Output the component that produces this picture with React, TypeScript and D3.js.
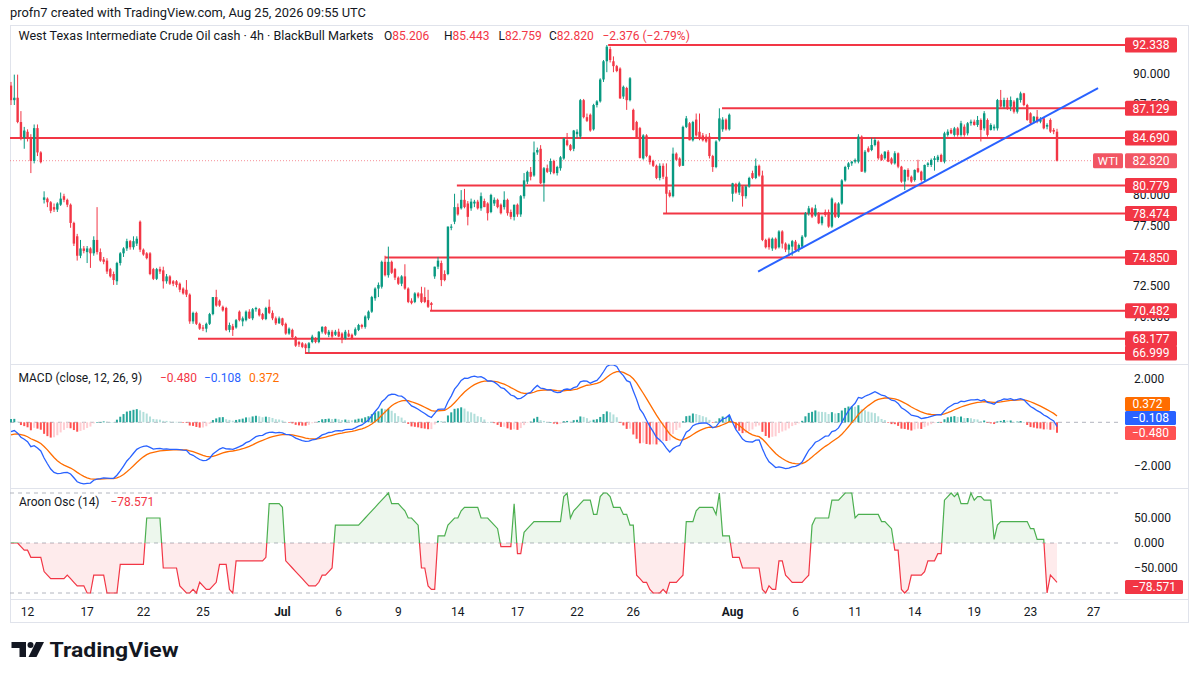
import React from 'react';
import * as d3 from 'd3';

const opens = [
89.0,87.8,88.0,86.0,84.7,85.2,84.7,82.8,85.5,83.5,
79.6,79.7,79.4,79.0,78.8,79.2,79.9,79.6,79.2,77.7,
76.6,75.0,75.6,75.3,75.6,75.2,76.3,75.3,74.7,74.6,
73.9,73.5,72.9,74.4,75.2,75.6,76.2,75.7,76.0,77.8,
75.5,75.2,75.2,73.9,73.1,73.9,73.8,72.9,73.3,72.9,
72.9,72.7,72.3,72.2,71.8,69.6,70.3,69.4,69.1,69.0,
69.4,70.2,71.6,71.3,70.8,70.7,68.9,69.2,69.1,70.4,
69.6,69.7,70.4,69.85,70.6,70.6,70.2,69.8,70.8,70.3,
69.85,69.44,69.85,69.4,68.6,68.9,68.3,67.9,67.8,67.7,
67.4,67.9,68.2,67.9,68.75,69.15,68.5,68.75,68.5,68.75,
68.6,68.2,68.6,68.5,68.5,68.9,69.3,69.15,69.85,70.4,
71.5,72.3,72.45,74.5,73.4,74.5,73.9,73.2,72.7,73.3,
72.3,71.3,71.2,71.9,71.9,71.6,71.35,71.1,73.3,74.1,
74.4,73.5,73.5,77.3,77.8,79.0,78.9,79.6,79.3,78.9,
79.3,79.45,78.9,79.5,79.3,78.6,79.3,79.6,79.2,79.0,
79.6,78.6,78.2,79.2,78.4,79.9,81.1,81.9,81.6,83.5,
83.8,81.0,82.2,81.9,82.8,81.8,82.2,83.0,84.5,84.1,
83.8,85.0,84.8,87.8,86.4,86.6,85.4,87.4,87.7,89.5,
91.0,92.0,91.0,90.6,90.4,88.1,88.8,87.8,87.0,86.0,
85.5,83.0,84.9,83.2,82.8,82.4,81.4,82.4,81.5,80.2,
79.9,83.4,83.0,82.4,85.6,85.9,84.5,86.2,85.2,84.9,
84.8,84.8,83.2,82.3,84.5,85.4,86.2,85.4,80.1,80.9,
80.2,80.7,79.9,80.7,81.8,81.4,82.4,81.6,76.3,76.4,
75.6,76.4,75.7,77.0,76.0,75.5,75.75,76.16,75.5,75.75,
76.57,78.49,78.9,78.3,78.5,77.67,78.6,78.6,77.4,79.3,
78.2,79.3,81.2,82.3,82.6,82.74,82.74,84.8,81.92,83.84,
83.7,84.11,84.39,83.3,83.02,83.56,83.0,82.6,83.43,82.33,
81.1,82.06,81.5,81.23,82.2,81.92,81.23,82.47,82.47,82.88,
82.88,83.29,82.74,84.94,85.35,84.94,85.48,84.94,85.62,85.07,
85.9,86.03,85.76,86.17,85.48,86.17,85.35,85.48,85.48,87.81,
87.27,87.81,87.27,87.68,86.85,87.81,88.36,87.4,86.72,86.03,
86.44,86.03,86.31,85.62,86.17,85.35,85.206
];

const highs = [
89.3,89.9,89.9,86.9,85.6,85.4,85.0,85.8,85.8,83.6,
80.3,79.8,79.5,79.3,79.4,80.2,80.1,79.7,79.3,77.8,
76.8,76.3,75.8,75.8,75.7,76.6,79.0,75.6,74.9,74.8,
74.0,73.7,74.5,75.3,75.7,76.4,76.3,76.6,76.6,77.9,
75.6,75.3,75.3,74.0,74.0,74.1,74.1,73.5,73.4,73.0,
73.0,72.8,72.4,73.0,71.9,70.4,70.4,69.5,69.3,69.5,
70.3,71.6,72.2,71.4,70.9,70.8,69.5,69.4,69.8,70.5,
70.0,70.5,70.6,70.7,70.8,70.7,70.3,70.8,71.4,70.5,
70.0,70.0,69.9,69.5,69.1,69.0,68.4,68.0,67.9,67.8,
67.9,68.5,68.3,68.8,69.2,69.2,68.9,68.9,68.9,69.0,
68.7,68.9,68.9,68.6,69.1,69.4,69.4,70.1,70.5,71.7,
72.4,72.8,74.6,75.0,75.75,74.6,74.0,73.3,73.4,74.3,
72.4,71.5,72.0,72.0,72.45,72.4,72.2,71.2,74.1,74.9,
74.6,73.8,77.4,77.6,80.1,79.3,80.4,80.5,79.5,79.7,
79.6,79.6,80.2,79.7,79.4,80.1,79.8,79.7,79.3,80.3,
79.7,78.8,79.2,79.3,80.0,81.8,82.0,82.3,84.4,83.9,
84.1,82.3,82.5,83.0,82.9,82.4,83.2,84.7,85.1,84.2,
85.35,85.4,87.9,87.9,86.7,86.7,87.5,87.8,89.6,91.1,
92.338,92.2,91.4,90.7,90.5,89.0,88.9,89.7,87.1,86.1,
85.6,85.0,85.0,83.3,82.9,82.5,82.6,82.6,82.6,80.4,
83.9,83.5,83.1,85.7,86.5,86.0,86.1,86.7,86.7,85.1,
85.0,85.1,83.3,84.5,87.129,86.4,86.3,86.7,81.0,81.0,
81.1,80.8,80.8,81.5,82.0,83.0,82.5,82.0,76.4,76.5,
76.5,76.5,77.1,77.1,76.1,76.0,76.3,76.3,76.0,76.7,
78.6,79.1,79.0,79.2,78.6,78.3,78.8,78.8,79.8,79.4,
79.4,81.3,82.4,82.7,82.8,83.0,85.0,84.9,83.7,84.0,
84.7,84.7,84.5,83.4,83.6,83.7,83.1,83.6,83.5,82.4,
82.1,82.2,81.6,82.1,82.9,82.0,82.5,82.7,83.0,83.2,
83.3,83.4,85.2,85.4,85.5,85.6,85.6,86.1,85.8,86.0,
86.2,86.2,86.5,86.3,86.9,86.3,85.9,85.8,87.9,88.64,
88.0,88.0,88.1,87.8,88.0,88.5,88.4,87.5,86.8,86.5,
86.99,86.4,86.4,85.9,86.3,85.5,85.443
];

const lows = [
87.4,87.4,85.9,84.5,83.8,84.4,81.8,82.6,83.2,82.6,
79.3,79.0,78.5,78.6,78.6,79.1,79.4,79.0,77.3,75.8,
74.6,74.8,75.2,74.4,74.0,75.0,75.1,74.5,74.3,73.5,
73.2,72.6,72.6,74.2,74.9,75.4,75.5,75.5,75.8,75.3,
75.0,74.7,73.4,73.0,73.0,73.5,72.3,72.7,72.6,72.5,
72.4,72.0,71.8,71.6,69.4,69.4,69.3,68.9,68.8,68.7,
69.3,70.1,70.8,70.8,70.4,68.8,68.7,68.4,69.0,69.6,
69.2,69.6,69.8,69.7,70.4,70.0,69.7,69.7,70.2,69.7,
69.3,69.4,69.2,68.5,68.5,68.2,67.5,67.5,67.4,67.0,
67.0,67.8,67.8,67.8,68.6,68.5,68.3,68.2,68.4,68.3,
67.8,68.1,68.3,68.1,68.4,68.8,69.0,69.0,69.7,70.3,
71.3,71.6,72.3,73.3,73.2,73.5,73.0,72.6,72.5,72.2,
71.1,71.0,71.1,71.5,71.1,71.1,70.7,70.48,73.1,73.9,
72.5,72.9,73.4,77.1,77.6,78.3,78.8,78.9,77.5,78.7,
79.0,78.8,78.7,79.0,77.9,78.5,79.1,78.9,78.4,78.8,
78.3,78.0,77.9,78.2,78.2,79.7,80.9,81.2,81.5,83.3,
80.9,79.45,81.8,81.7,81.7,81.6,82.0,82.9,84.0,83.6,
83.6,84.7,84.6,86.3,86.0,85.2,85.3,87.2,87.6,89.3,
90.1,90.9,90.1,90.1,87.9,87.9,87.0,87.7,85.3,84.6,
83.0,82.9,83.1,82.5,82.3,81.3,81.2,81.3,78.47,79.8,
79.8,82.8,82.3,82.4,85.5,84.5,84.4,84.8,84.5,84.4,
84.3,83.0,81.9,82.2,84.4,85.2,85.3,85.3,79.45,80.1,
80.0,79.04,79.7,80.6,81.3,81.3,81.5,76.2,75.6,75.5,
75.4,75.5,75.6,75.6,75.3,75.0,75.0,75.3,75.3,75.6,
76.5,78.3,78.1,78.2,77.6,77.5,78.2,77.3,77.3,78.1,
78.1,79.2,81.1,82.1,82.4,82.6,82.6,81.9,81.8,83.5,
83.6,84.0,82.9,82.8,82.9,82.7,82.5,82.5,82.2,81.0,
80.41,81.2,81.0,81.1,81.8,81.1,81.1,82.3,82.3,82.0,
82.7,82.7,82.6,84.8,85.0,84.8,84.8,84.8,84.8,84.9,
85.7,85.7,85.6,84.4,85.3,84.8,85.3,85.3,85.3,87.2,
87.1,87.0,86.9,86.7,86.7,87.6,87.3,86.1,85.8,85.9,
85.9,85.9,85.4,85.4,85.1,85.0,82.759
];

const closes = [
87.8,88.0,86.0,84.7,85.3,84.7,82.8,85.5,83.5,82.7,
79.8,79.4,78.7,78.8,79.3,79.7,79.6,79.2,77.7,76.0,
75.0,75.6,75.4,75.6,75.2,76.3,75.3,74.6,74.5,73.7,
73.3,73.0,74.4,75.2,75.6,76.2,75.7,76.2,76.4,75.5,
75.1,74.8,73.5,73.1,73.9,73.7,72.9,73.3,72.7,72.7,
72.6,72.2,71.9,71.8,69.6,70.3,69.4,69.0,69.0,69.4,
70.2,71.6,70.9,70.9,70.5,68.9,69.3,68.9,69.7,69.7,
69.85,70.4,69.85,70.6,70.7,70.1,69.8,70.7,70.3,69.85,
69.44,69.85,69.3,68.6,69.0,68.3,67.6,67.7,67.5,67.4,
67.8,68.35,67.9,68.75,69.15,68.6,68.75,68.35,68.75,68.35,
68.1,68.75,68.35,68.2,68.95,69.3,69.15,70.0,70.4,71.6,
72.3,72.6,74.5,73.4,74.5,73.6,73.2,72.7,73.3,72.3,
71.2,71.1,71.9,71.65,71.2,71.2,70.8,70.95,74.1,74.6,
73.0,73.0,77.4,77.4,79.0,78.4,79.6,79.0,78.2,79.45,
79.45,78.9,79.9,79.0,78.5,80.0,79.6,79.0,78.5,79.6,
78.5,78.2,79.2,78.4,79.9,81.2,81.9,81.5,83.5,83.7,
80.96,82.2,81.9,82.8,81.8,82.3,83.1,84.66,84.1,83.7,
85.3,85.2,87.8,86.4,86.1,85.3,87.4,87.7,89.5,91.0,
92.2,91.1,90.6,90.2,87.95,88.9,87.8,89.6,85.35,84.7,
83.05,84.9,83.2,82.7,82.4,81.4,82.4,81.5,80.1,79.9,
83.4,82.9,82.4,85.6,86.3,84.5,86.0,84.9,84.6,84.5,
84.4,83.2,82.3,84.4,86.3,86.2,85.4,86.6,80.96,80.2,
80.96,79.9,80.7,81.4,81.4,82.4,81.6,76.3,75.7,75.7,
76.4,75.6,77.0,76.0,75.5,75.9,76.2,75.47,75.88,76.57,
78.49,78.9,78.22,78.9,77.67,78.2,78.35,77.4,79.7,78.2,
79.3,81.2,82.3,82.6,82.74,82.88,84.8,81.92,83.56,83.56,
84.11,84.52,83.02,82.88,83.56,82.74,82.6,83.43,82.33,81.1,
82.06,81.5,81.1,82.06,81.9,81.23,82.47,82.6,82.88,83.02,
83.15,82.74,85.07,85.21,85.07,85.48,84.94,85.9,84.94,85.9,
86.03,85.76,86.17,85.35,86.72,84.94,85.76,85.62,87.81,87.27,
87.81,87.13,87.81,86.85,87.95,88.36,87.4,86.17,85.9,86.44,
86.03,86.17,85.48,85.76,85.21,85.21,82.82
];

const xTickLabels = ['12', '17', '22', '25', 'Jul', '6', '9', '14', '17', '22', '26', 'Aug', '6', '11', '14', '19', '23', '27'];
const xTickBars = [5, 23, 40, 58, 82, 99, 117, 135, 153, 171, 188, 218, 237, 255, 273, 291, 308, 327];
const monthLabels = ['Jul', 'Aug'];

const levelPrices = [92.338, 87.129, 84.69, 80.779, 78.474, 74.85, 70.482, 68.177, 66.999];
const levelStartBars = [180.4, 214.8, -0.3, 134.7, 197, 113, 126.6, 56.5, 88.8];

// axis ticks that are not hidden behind a price label
const priceTicks = [70, 72.5, 77.5, 80, 87.5, 90];
const macdTicks = [2, -2];
const aroonTicks = [50, 0, -50];
const aroonGuides = [100, 0, -100];

const trendBars = [225.7, 328.4];
const trendPrices = [73.7, 88.8];

const lastPrice = 82.82;
const macdStart = -0.43;
const signalStart = -0.58;
const aroonLength = 14;

const macdLegend = ['−0.480', '−0.108', '0.372'];
const aroonLegend = '−78.571';

const FONT = 'Roboto, "Noto Sans", "Liberation Sans", sans-serif';
const UP = '#089981';
const DOWN = '#f23645';
const TXT = '#131722';
const BORDER = '#e0e3eb';

function fmt(v: number) {
  const s = v.toFixed(3);
  return v < 0 ? '−' + s.slice(1) : s;
}

export default function App() {
  const n = closes.length;
  const x = d3.scaleLinear().domain([0, n - 1]).range([11, 1057]);
  const y = d3.scaleLinear().domain([66.999, 92.338]).range([353, 45]);
  const yM = d3.scaleLinear().domain([-2, 2]).range([465.7, 378.9]);
  const yA = d3.scaleLinear().domain([-100, 100]).range([593, 493]);

  // MACD (12, 26, 9) from closes
  const k12 = 2 / 13, k26 = 2 / 27, k9 = 2 / 10;
  let e12 = closes[0];
  let e26 = closes[0] - macdStart;
  let sig = signalStart;
  const macd: number[] = [];
  const signal: number[] = [];
  const hist: number[] = [];
  closes.forEach((c, i) => {
    if (i > 0) {
      e12 = c * k12 + e12 * (1 - k12);
      e26 = c * k26 + e26 * (1 - k26);
    }
    const m = e12 - e26;
    if (i > 0) sig = m * k9 + sig * (1 - k9);
    macd.push(m);
    signal.push(sig);
    hist.push(m - sig);
  });

  // Aroon oscillator (14)
  const aroon: number[] = closes.map((_, i) => {
    const start = Math.max(0, i - aroonLength);
    let hi = start, lo = start;
    for (let j = start; j <= i; j++) {
      if (highs[j] >= highs[hi]) hi = j;
      if (lows[j] <= lows[lo]) lo = j;
    }
    const up = (100 * (aroonLength - (i - hi))) / aroonLength;
    const dn = (100 * (aroonLength - (i - lo))) / aroonLength;
    return up - dn;
  });

  const macdPath = d3.line<number>().x((_, i) => x(i)).y((d) => yM(d))(macd) || '';
  const sigPath = d3.line<number>().x((_, i) => x(i)).y((d) => yM(d))(signal) || '';
  const aroonPath = d3.line<number>().x((_, i) => x(i)).y((d) => yA(d))(aroon) || '';
  const aroonAreaPath = d3.area<number>().x((_, i) => x(i)).y0(yA(0)).y1((d) => yA(d))(aroon) || '';

  const histColor = (i: number) => {
    const h = hist[i];
    const p = i > 0 ? hist[i - 1] : h;
    if (h >= 0) return h >= p ? '#26a69a' : '#b2dfdb';
    return h < p ? '#ff5252' : '#ffcdd2';
  };

  const bodyW = 2.4;

  return (
    <div style={{ position: 'absolute', left: 0, top: 0 }}>
      <svg width={1200} height={675} viewBox="0 0 1200 675" style={{ display: 'block', background: '#ffffff' }} fontFamily={FONT}>
        <defs>
          <clipPath id="plotPrice"><rect x={10} y={27} width={1115} height={337} /></clipPath>
          <clipPath id="plotMacd"><rect x={10} y={365} width={1115} height={122} /></clipPath>
          <clipPath id="aroonAbove"><rect x={10} y={489} width={1115} height={yA(0) - 489} /></clipPath>
          <clipPath id="aroonBelow"><rect x={10} y={yA(0)} width={1115} height={599 - yA(0)} /></clipPath>
        </defs>
        <rect x={0} y={0} width={1200} height={675} fill="#ffffff" />

        {/* header */}
        <text x={10} y={17} fontSize={13} fill={TXT} textLength={356} lengthAdjust="spacingAndGlyphs">profn7 created with TradingView.com, Aug 25, 2026 09:55 UTC</text>

        {/* frame */}
        <rect x={10.5} y={25.5} width={1178} height={597} fill="none" stroke={BORDER} strokeWidth={1} />
        <line x1={10} x2={1188} y1={364.5} y2={364.5} stroke={BORDER} />
        <line x1={10} x2={1188} y1={488.5} y2={488.5} stroke={BORDER} />
        <line x1={10} x2={1188} y1={599.5} y2={599.5} stroke={BORDER} />

        <text x={18.5} y={40} fontSize={12} fill={TXT} textLength={355} lengthAdjust="spacingAndGlyphs">West Texas Intermediate Crude Oil cash · 4h · BlackBull Markets</text>
        <text x={384} y={40} fontSize={12} fill={TXT}>O<tspan fill={DOWN}>85.206</tspan></text>
        <text x={444} y={40} fontSize={12} fill={TXT}>H<tspan fill={DOWN}>85.443</tspan></text>
        <text x={498.5} y={40} fontSize={12} fill={TXT}>L<tspan fill={DOWN}>82.759</tspan></text>
        <text x={549} y={40} fontSize={12} fill={TXT}>C<tspan fill={DOWN}>82.820</tspan></text>
        <text x={602.5} y={40} fontSize={12} fill={DOWN}>−2.376 (−2.79%)</text>

        {/* price panel */}
        <g clipPath="url(#plotPrice)">
          <line x1={10} x2={1093} y1={y(lastPrice)} y2={y(lastPrice)} stroke={DOWN} strokeWidth={1} strokeDasharray="1 2" opacity={0.55} />
          {levelPrices.map((p, k) => (
            <line key={'lv' + k} x1={Math.max(10, x(levelStartBars[k]))} x2={1125} y1={y(p)} y2={y(p)} stroke={DOWN} strokeWidth={2} />
          ))}
          {closes.map((c, i) => {
            const o = opens[i];
            const col = c >= o ? UP : DOWN;
            const top = y(Math.max(o, c));
            const bot = y(Math.min(o, c));
            const hi = y(Math.max(highs[i], o, c));
            const lo = y(Math.min(lows[i], o, c));
            return (
              <g key={'c' + i}>
                <line x1={x(i)} x2={x(i)} y1={hi} y2={lo} stroke={col} strokeWidth={1} />
                <rect x={x(i) - bodyW / 2} y={top} width={bodyW} height={Math.max(1, bot - top)} fill={col} />
              </g>
            );
          })}
          <line x1={x(trendBars[0])} y1={y(trendPrices[0])} x2={x(trendBars[1])} y2={y(trendPrices[1])} stroke="#2962ff" strokeWidth={2} />
        </g>

        {/* price axis */}
        {priceTicks.map((t) => (
          <text key={'pt' + t} x={1133} y={y(t)} dy="0.35em" fontSize={12} fill={TXT}>{t.toFixed(3)}</text>
        ))}
        {levelPrices.map((p, k) => (
          <g key={'lb' + k}>
            <rect x={1125} y={y(p) - 7.5} width={52} height={15} rx={1.5} fill={DOWN} />
            <text x={1151} y={y(p)} dy="0.35em" fontSize={12} fill="#ffffff" textAnchor="middle">{p.toFixed(3)}</text>
          </g>
        ))}
        <rect x={1093} y={y(lastPrice) - 7.5} width={30} height={15} rx={1.5} fill="#f25563" />
        <text x={1108} y={y(lastPrice)} dy="0.35em" fontSize={11.5} fill="#ffffff" textAnchor="middle">WTI</text>
        <rect x={1125} y={y(lastPrice) - 7.5} width={52} height={15} rx={1.5} fill="#f25563" />
        <text x={1151} y={y(lastPrice)} dy="0.35em" fontSize={12} fill="#ffffff" textAnchor="middle">{lastPrice.toFixed(3)}</text>

        {/* MACD panel */}
        <line x1={10} x2={1122} y1={yM(0)} y2={yM(0)} stroke="#b2b5be" strokeDasharray="4 4" strokeWidth={1} />
        <g clipPath="url(#plotMacd)">
          {hist.map((h, i) => (
            <rect key={'h' + i} x={x(i) - 1} y={Math.min(yM(h), yM(0))} width={2} height={Math.max(0.6, Math.abs(yM(h) - yM(0)))} fill={histColor(i)} />
          ))}
          <path d={sigPath} fill="none" stroke="#ff6d00" strokeWidth={1.3} />
          <path d={macdPath} fill="none" stroke="#2962ff" strokeWidth={1.3} />
        </g>
        <text x={18.5} y={382} fontSize={12} fill={TXT}>MACD (close, 12, 26, 9)</text>
        <text x={160} y={382} fontSize={12} fill="#f23645">{macdLegend[0]}</text>
        <text x={204} y={382} fontSize={12} fill="#2962ff">{macdLegend[1]}</text>
        <text x={249} y={382} fontSize={12} fill="#ff6d00">{macdLegend[2]}</text>
        {macdTicks.map((t) => (
          <text key={'mt' + t} x={1134} y={yM(t)} dy="0.35em" fontSize={12} fill={TXT}>{fmt(t)}</text>
        ))}
        <rect x={1125} y={397} width={45} height={14} rx={1.5} fill="#ff6d00" />
        <text x={1147.5} y={404} dy="0.35em" fontSize={12} fill="#ffffff" textAnchor="middle">{macdLegend[2]}</text>
        <rect x={1125} y={411} width={51} height={14} rx={1.5} fill="#2962ff" />
        <text x={1150.5} y={418} dy="0.35em" fontSize={12} fill="#ffffff" textAnchor="middle">{macdLegend[1]}</text>
        <rect x={1125} y={426} width={51} height={14} rx={1.5} fill="#ff5252" />
        <text x={1150.5} y={433} dy="0.35em" fontSize={12} fill="#ffffff" textAnchor="middle">{macdLegend[0]}</text>

        {/* Aroon panel */}
        {aroonGuides.map((g) => (
          <line key={'ag' + g} x1={10} x2={1122} y1={yA(g)} y2={yA(g)} stroke="#b2b5be" strokeDasharray="4 4" strokeWidth={1} />
        ))}
        <g clipPath="url(#aroonAbove)">
          <path d={aroonAreaPath} fill="rgba(76,175,80,0.1)" />
          <path d={aroonPath} fill="none" stroke="#4caf50" strokeWidth={1.2} />
        </g>
        <g clipPath="url(#aroonBelow)">
          <path d={aroonAreaPath} fill="rgba(242,54,69,0.1)" />
          <path d={aroonPath} fill="none" stroke="#f23645" strokeWidth={1.2} />
        </g>
        <text x={19} y={506} fontSize={12} fill={TXT}>Aroon Osc (14)</text>
        <text x={110.5} y={506} fontSize={12} fill="#f23645">{aroonLegend}</text>
        {aroonTicks.map((t) => (
          <text key={'at' + t} x={1134} y={yA(t)} dy="0.35em" fontSize={12} fill={TXT}>{fmt(t)}</text>
        ))}
        <rect x={1125} y={580} width={58} height={14} rx={1.5} fill="#f23645" />
        <text x={1154} y={587} dy="0.35em" fontSize={12} fill="#ffffff" textAnchor="middle">{aroonLegend}</text>

        {/* x axis */}
        {xTickLabels.map((l, k) => (
          <text key={'xt' + k} x={x(xTickBars[k])} y={616} fontSize={12} fill={TXT} textAnchor="middle" fontWeight={monthLabels.includes(l) ? 700 : 400}>{l}</text>
        ))}

        {/* TradingView logo */}
        <g fill="#131722">
          <path d="M11.5,642 H26 V657 H19.5 V648 H11.5 Z" />
          <circle cx={30.5} cy={645} r={3} />
          <path d="M36,642 H44 L36.5,657 H28.5 Z" />
        </g>
        <text x={49.5} y={656.5} fontSize={20} fontWeight={700} fill="#131722" textLength={129} lengthAdjust="spacingAndGlyphs">TradingView</text>
      </svg>
    </div>
  );
}
